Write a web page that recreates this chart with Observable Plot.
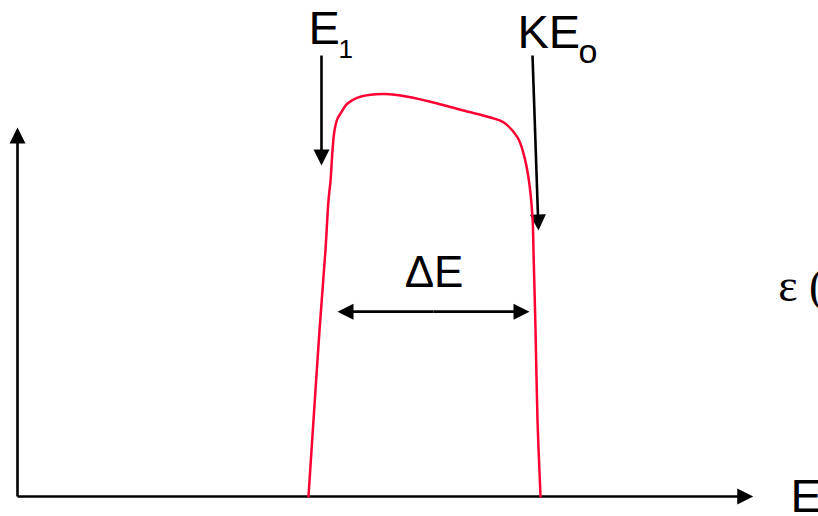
<!DOCTYPE html>
<html>
<head>
<meta charset="utf-8">
<script src="https://cdn.jsdelivr.net/npm/d3@7"></script>
<script src="https://cdn.jsdelivr.net/npm/@observablehq/plot@0.6"></script>
<style>
  html, body { margin: 0; padding: 0; background: #fff; }
  #chart svg { display: block; }
</style>
</head>
<body>
<div id="chart"></div>
<script>
// ---- Data (arbitrary units: energy 0–100, intensity 0–100) ----
const energy = [39.59, 40.27, 41.09, 41.90, 42.31, 42.59, 42.86, 43.13, 43.54, 43.95, 44.90, 46.26, 48.03, 50.07, 52.11, 56.19, 60.68, 64.35, 66.12, 68.03, 68.84, 69.52, 70.07, 70.20, 70.48, 70.75, 71.16];
const intensity = [0, 20.6, 45.0, 66.7, 80.2, 85.6, 93.8, 99.2, 102.4, 103.8, 106.5, 108.1, 108.9, 109.1, 108.7, 107.0, 104.6, 102.7, 101.4, 97.3, 93.0, 86.4, 75.6, 66.7, 45.0, 20.6, 0];

// arrows: start and tip (data units)
const arrowX1 = [0, 0, 41.36, 70.07, 56.6, 56.6];
const arrowY1 = [0, 0, 119.5, 119.5, 50.1, 50.1];
const arrowX2 = [0, 100.1, 41.36, 70.88, 43.54, 69.66];
const arrowY2 = [100, 0, 89.7, 72.1, 50.1, 50.1];

// sans-serif labels
const sansText = ["E", "1", "KE", "o", "ΔE", "E"];
const sansX = [39.59, 43.67, 68.03, 76.33, 56.67, 105.17];
const sansY = [122.76, 118.97, 121.68, 117.6, 56.64, -4.07];
const sansSize = [47, 26, 47, 34, 44, 47];
const sansAnchor = ["start", "start", "start", "start", "middle", "start"];

// serif label at right
const serifText = ["ε ("];
const serifX = [103.5];
const serifY = [53.1];

// ---- Layout ----
const W = 818, H = 516;
const mL = 17, mR = 66, mT = 127, mB = 20;
const kx = (W - mL - mR) / 100, ky = (H - mT - mB) / 100;
const headLen = 16, headR = 8;

const curve = energy.map((e, i) => ({ e, v: intensity[i] }));

const arrows = arrowX1.map((x1, i) => {
  const x2 = arrowX2[i], y1 = arrowY1[i], y2 = arrowY2[i];
  const dxp = (x2 - x1) * kx, dyp = -(y2 - y1) * ky;
  const len = Math.hypot(dxp, dyp);
  const s = headLen * 0.6;
  return {
    x1, y1, x2, y2,
    xe: x2 - (dxp / len) * s / kx,
    ye: y2 + (dyp / len) * s / ky,
    angle: Math.atan2(dxp, -dyp) * 180 / Math.PI
  };
});

const sans = sansText.map((t, i) => ({ t, x: sansX[i], y: sansY[i], size: sansSize[i], anchor: sansAnchor[i] }));
const serif = serifText.map((t, i) => ({ t, x: serifX[i], y: serifY[i] }));

const sansMarks = sans.map(d => Plot.text([d], {
  x: "x", y: "y", text: "t", fontSize: d.size, textAnchor: d.anchor,
  lineAnchor: "bottom", fill: "black",
  fontFamily: "'Liberation Sans', Arial, sans-serif"
}));

const chart = Plot.plot({
  width: W, height: H,
  marginLeft: mL, marginRight: mR, marginTop: mT, marginBottom: mB,
  x: { domain: [0, 100], axis: null },
  y: { domain: [0, 100], axis: null },
  marks: [
    Plot.link(arrows, { x1: "x1", y1: "y1", x2: "xe", y2: "ye", stroke: "black", strokeWidth: 2.6 }),
    Plot.vector(arrows, { x: "x2", y: "y2", rotate: "angle", length: headLen, r: headR, shape: "spike", anchor: "end", fill: "black", stroke: "none" }),
    Plot.line(curve, { x: "e", y: "v", curve: "catmull-rom", stroke: "#ff0033", strokeWidth: 2.5 }),
    ...sansMarks,
    Plot.text(serif, { x: "x", y: "y", text: "t", fontSize: 46, textAnchor: "start", lineAnchor: "bottom", fill: "black", fontFamily: "'Liberation Serif', 'Times New Roman', serif" })
  ]
});
document.getElementById("chart").appendChild(chart);
</script>
</body>
</html>
